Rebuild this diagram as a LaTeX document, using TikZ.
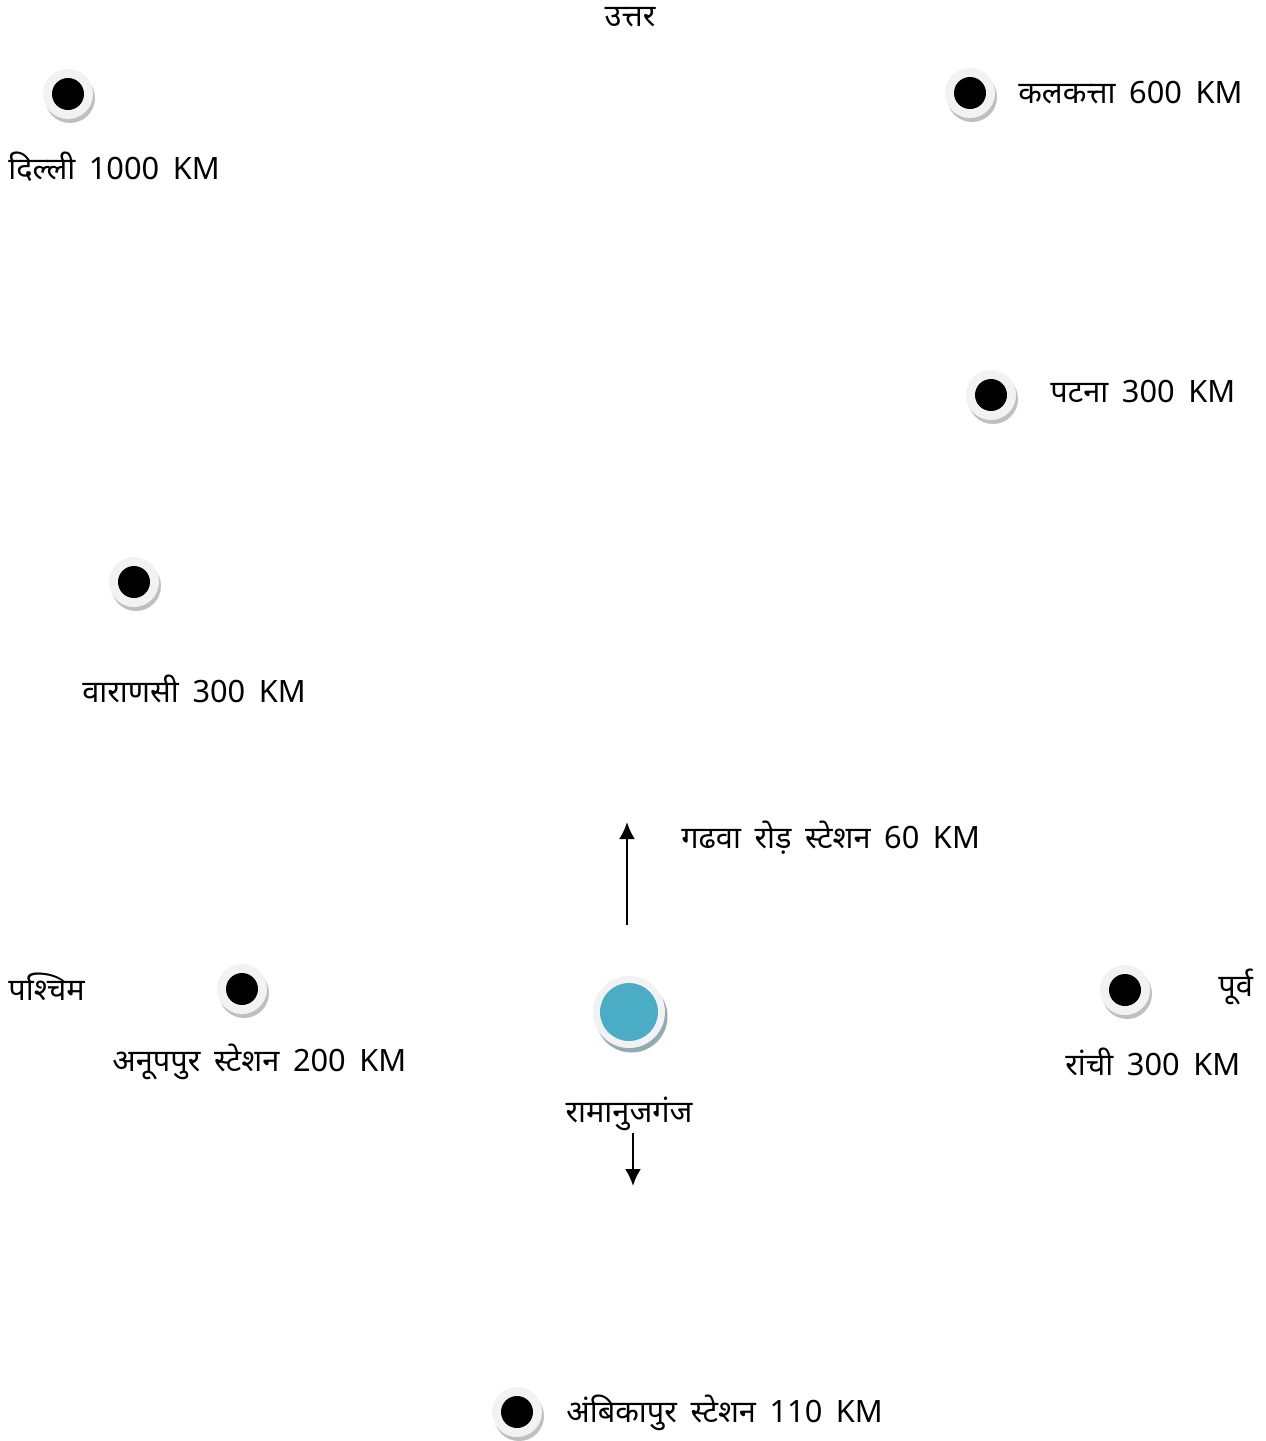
\documentclass[tikz,border=0pt]{standalone}
\usepackage{fontspec}
\setmainfont[Script=Devanagari,WordSpace=1.7]{Noto Sans}
\usetikzlibrary{shadows,arrows.meta}
\definecolor{ringgray}{HTML}{F2F2F2}
\definecolor{shadegray}{HTML}{BFBFBF}
\definecolor{cityblue}{HTML}{4BACC6}
\definecolor{blueshade}{HTML}{92ABB3}
\tikzset{
  city/.style={circle,fill=ringgray,minimum size=1cm,inner sep=0pt,
    drop shadow={shadow xshift=0.04cm,shadow yshift=-0.08cm,fill=shadegray,opacity=1},
    path picture={\fill[black] (path picture bounding box.center) circle (0.32cm);}},
  home/.style={circle,fill=ringgray,minimum size=1.44cm,inner sep=0pt,
    drop shadow={shadow xshift=0.05cm,shadow yshift=-0.09cm,fill=blueshade,opacity=1},
    path picture={\fill[cityblue] (path picture bounding box.center) circle (0.58cm);}},
  lbl/.style={inner sep=0pt,anchor=west,font=\fontsize{17.5}{21}\selectfont},
  dir/.style={inner sep=0pt,font=\fontsize{17.5}{21}\selectfont},
  pointer/.style={-{Latex[length=0.34cm,width=0.32cm]},line width=1.4pt}
}
\begin{document}
\begin{tikzpicture}[x=0.02cm,y=-0.02cm]
  \useasboundingbox (0,0) rectangle (1266,1441);
  \node[dir] (north) at (630,17) {उत्तर};
  \node[dir,anchor=west] (west) at (8,987) {पश्चिम};
  \node[dir,anchor=west] (east) at (1218,987) {पूर्व};

  \node[city] (delhi) at (68,94) {};
  \node[lbl] (delhil) at (8,167) {दिल्ली 1000 KM};
  \node[city] (kolkata) at (970,93) {};
  \node[lbl] (kolkatal) at (1018,93) {कलकत्ता 600 KM};
  \node[city] (patna) at (991,395) {};
  \node[lbl] (patnal) at (1050,391) {पटना 300 KM};
  \node[city] (varanasi) at (134,582) {};
  \node[lbl] (varanasil) at (82,689) {वाराणसी 300 KM};
  \node[city] (anuppur) at (242,989) {};
  \node[lbl] (anuppurl) at (112,1062) {अनूपपुर स्टेशन 200 KM};
  \node[city] (ranchi) at (1125,990) {};
  \node[lbl] (ranchil) at (1065,1062) {रांची 300 KM};
  \node[city] (ambikapur) at (517,1412) {};
  \node[lbl] (ambikapurl) at (566,1413) {अंबिकापुर स्टेशन 110 KM};

  \node[home] (ramanuj) at (629,1012) {};
  \node[dir] (ramanujl) at (629,1114) {रामानुजगंज};

  \coordinate (garhwa0) at (627,925);
  \coordinate (garhwa1) at (627,822);
  \draw[pointer] (garhwa0) -- (garhwa1);
  \node[lbl] (garhwal) at (681,838) {गढवा रोड़ स्टेशन 60 KM};

  \coordinate (south0) at (633,1133);
  \coordinate (south1) at (633,1186);
  \draw[pointer] (south0) -- (south1);
\end{tikzpicture}
\end{document}
